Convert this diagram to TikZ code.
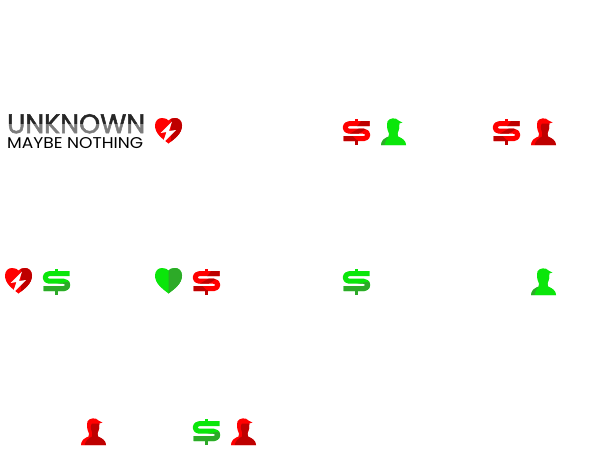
\documentclass[tikz,border=0pt]{standalone}
\usepackage{fontspec}
\usepackage{graphicx}
\setmainfont{Poppins}
\newfontfamily\titlefont[FakeBold=1.8]{Poppins}
\definecolor{rl}{RGB}{255,0,0}
\definecolor{rd}{RGB}{190,0,0}
\definecolor{gl}{RGB}{10,230,10}
\definecolor{gd}{RGB}{45,170,40}
\tikzset{
 dollarstroke/.style={line width=5,line cap=butt,line join=round},
 titletext/.style={anchor=north west,inner sep=0,text=black!85},
}
\newcommand{\dollarpath}{(26.5,4.7) -- (6,4.7) .. controls (1,4.7) and (1,12.2) .. (6,12.2) -- (20.5,12.2) .. controls (26.2,12.2) and (26.2,19.7) .. (20.5,19.7) -- (0.5,19.7)}
\newcommand{\dollarbase}[2]{%
  \draw[dollarstroke,#1] \dollarpath;
  \fill[#1] (12,-0.5) rectangle (15.2,3);
  \fill[#2] (12,21) rectangle (15.2,26);
}
\newcommand{\dollargreen}[2]{%
 \begin{scope}[shift={(#1,#2)}]
  \dollarbase{gl}{gd}
  \begin{scope}
   \clip (0,16) -- (12,15) -- (27,12.5) -- (27,26) -- (0,26) -- cycle;
   \draw[dollarstroke,gd] \dollarpath;
  \end{scope}
 \end{scope}}
\newcommand{\dollarred}[2]{%
 \begin{scope}[shift={(#1,#2)}]
  \dollarbase{rl}{rd}
  \begin{scope}
   \clip (19,1) -- (27,1) -- (27,7.5) -- (14,7.5) -- cycle
         (6,15) -- (16,9.5) -- (24,9.5) -- (15,15) -- cycle
         (0,16.5) -- (9,16.5) -- (15,22.5) -- (0,22.5) -- cycle;
   \draw[dollarstroke,rd] \dollarpath;
  \end{scope}
 \end{scope}}
\newcommand{\personsign}[5]{%
 \begin{scope}[shift={(#1,#2)}]
  \fill[#3] (0,27) .. controls (0.5,22) and (3.5,20.5) .. (7.5,18.5) -- (8,15.5) .. controls (6,12) and (5.5,7) .. (6.5,3.5) .. controls (8,0) and (15,-1) .. (17.5,2.5) -- (21.5,4.5) -- (18.3,5.5) .. controls (18.5,9) and (18,12.5) .. (16.5,15.5) -- (17,18.5) .. controls (21,20.5) and (24.5,22) .. (25,27) -- cycle;
  \fill[#4] (3.5,27) .. controls (4.5,23) and (7,20.5) .. (11,18.5) -- (11,14) .. controls (9.5,11) and (9.5,7) .. (11,5.5) -- (18.3,5.5) .. controls (18.5,9) and (18,12.5) .. (16.5,15.5) -- (17,18.5) .. controls (21,20.5) and (24.5,22) .. (25,27) -- cycle;
  \fill[#5] (0,27) .. controls (0.5,22) and (3.5,20.5) .. (7.5,18.5) .. controls (5,21) and (4,24) .. (3.5,27) -- cycle;
 \end{scope}}
\newcommand{\heartshape}{(13.5,25.5) .. controls (7,20.5) and (0,15.5) .. (0,7.5) .. controls (0,2.5) and (3.5,0) .. (7,0) .. controls (10,0) and (12.5,1) .. (13.5,2.5) .. controls (14.5,1) and (17,0) .. (20,0) .. controls (23.5,0) and (27,2.5) .. (27,7.5) .. controls (27,15.5) and (20,20.5) .. (13.5,25.5) -- cycle}
\newcommand{\heartsign}[4]{%
 \begin{scope}[shift={(#1,#2)}]
  \fill[#3] \heartshape;
  \begin{scope}
   \clip (13.5,0) rectangle (28,26);
   \fill[#4] \heartshape;
  \end{scope}
 \end{scope}}
\newcommand{\brokensign}[2]{%
 \begin{scope}[shift={(#1,#2)}]
  \fill[rl] \heartshape;
  \begin{scope}
   \clip (16,0) rectangle (28,26);
   \fill[rd] \heartshape;
  \end{scope}
  \fill[white] (17,3.5) -- (5.5,15) -- (11.5,14) -- (7.5,25.5) -- (21,12) -- (14,13) -- cycle;
 \end{scope}}
\begin{document}
\begin{tikzpicture}[x=1pt,y=-1pt]
\useasboundingbox (0,0) rectangle (600,450);
\node[titletext] (title) at (7,114) {\resizebox{138pt}{19pt}{\titlefont UNKNOWN}};
\fill[white,opacity=.4] (5,124) rectangle (147,134);
\node[titletext,text=black] (sub) at (7,137) {\resizebox{136pt}{11pt}{MAYBE NOTHING}};
\brokensign{155}{118}
\dollarred{343}{119}
\personsign{381}{118}{gl}{gl}{gd}
\dollarred{493}{119}
\personsign{531}{118}{rl}{rd}{rl}
\brokensign{5}{268}
\dollargreen{43}{269}
\heartsign{155}{268}{gl}{gd}
\dollarred{193}{269}
\dollargreen{343}{269}
\personsign{531}{268}{gl}{gl}{gd}
\personsign{81}{418}{rl}{rd}{rl}
\dollargreen{193}{419}
\personsign{231}{418}{rl}{rd}{rl}
\end{tikzpicture}
\end{document}
